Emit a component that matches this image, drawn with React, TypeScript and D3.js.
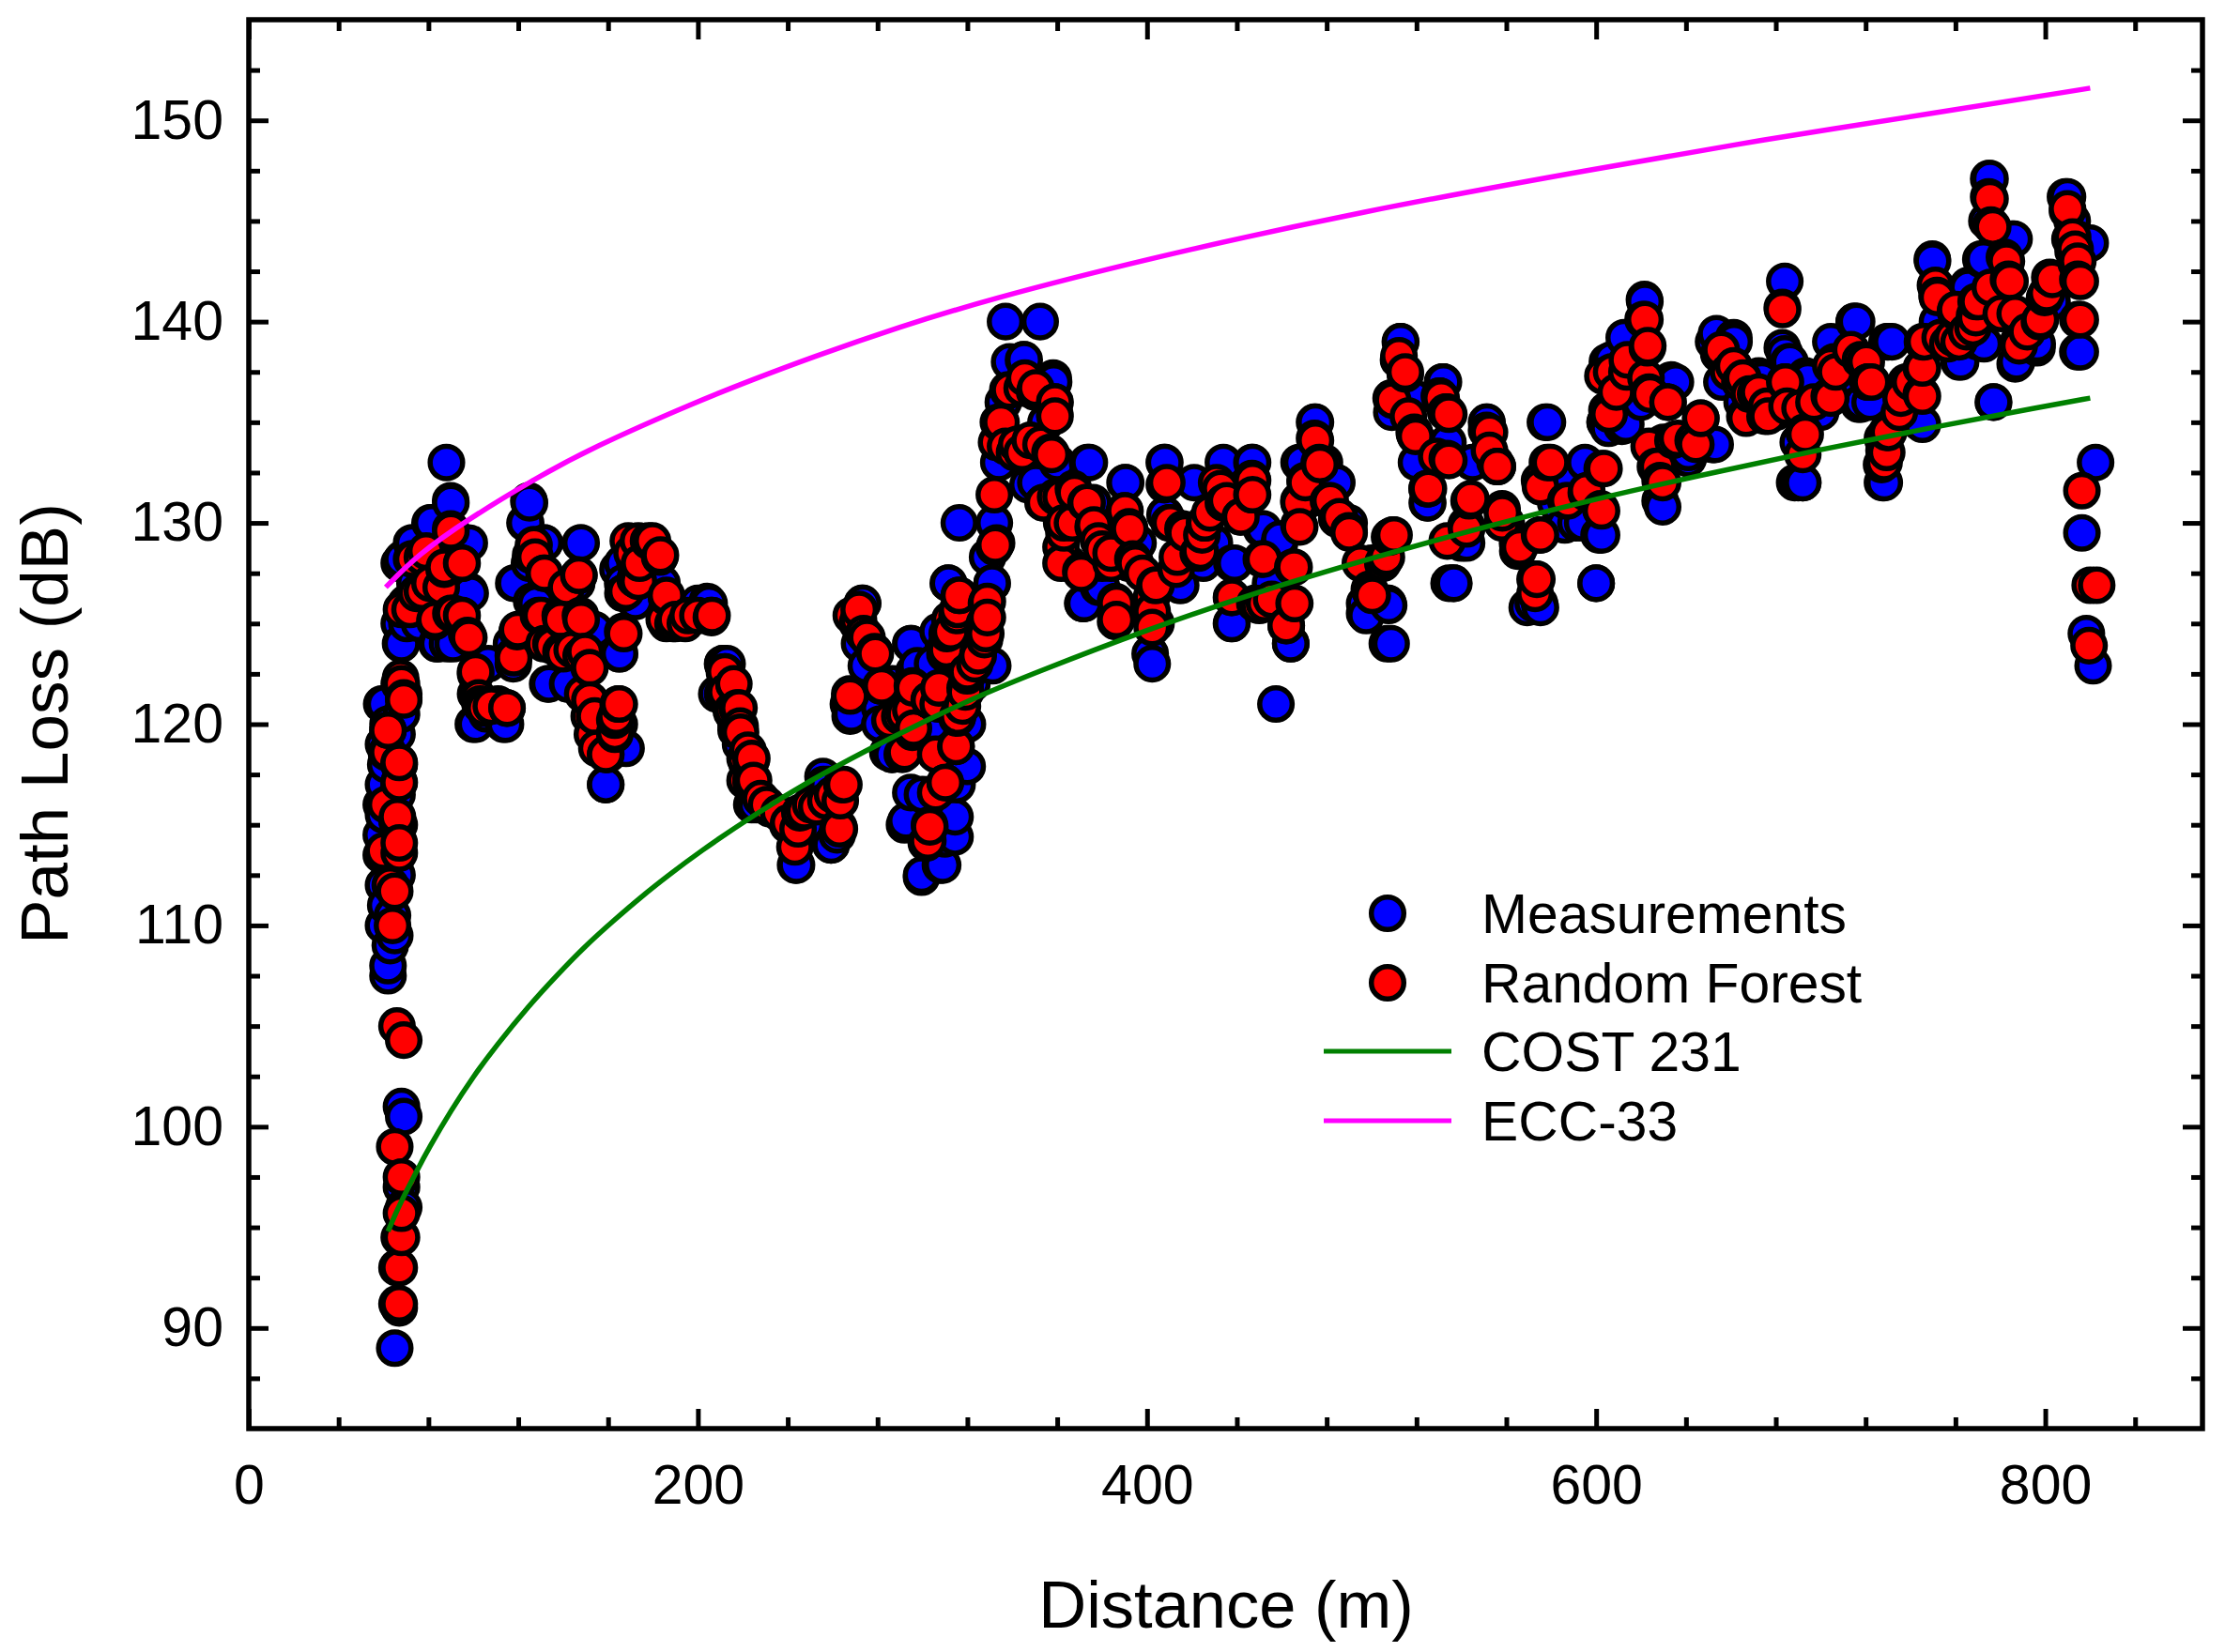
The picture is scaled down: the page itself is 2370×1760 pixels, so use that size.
import React, { useEffect, useRef } from "react";
import * as d3 from "d3";

type P = [number, number];

const measurementsSparse: P[] = [
[65,89],[67,91],[66,91.2],[66,93],[67,94.5],[69,96],[68,97],[68,101],[69,100.5],
[62,107.5],[62,108],[63,109],[65,109.5],[60,110],[61,111],[64,110.5],[60,112],[66,112.5],[59,113.5],[65,113],[59,114.5],[60,115.5],[67,115],[59,116],[60,117],[66,116.5],[61,118],[67,118],[60,119],[62,120],[60.5,121],[66,119.5],[68,120.5],[67,122],[69,121.5],
[68,124],[67,125],[67,128],[70,126],[72.5,129],[74,127],[76,125],[80.7,130],[78,128],[83.7,124],[85,125],[88,133],[90,131],[91,124],[92,127],[95,129],[98.6,126.5],[97,124.5],[100,120],[103,123],[101,121.5],[106,120.5],[113.5,120],[111,121],
[118,127],[117,124],[123,130],[125,131],[125,128],[131.5,129],[128,126],[133.7,122],[135,124],[142,122],[140,125],[148,129],[146,127],[150,124],[153,121],[155,119.5],[159,117],[160,118.5],[165,123.5],[164.4,127.7],[165,120],
[170,129],[172,128],[176,129],[180,128.5],[184,127],[186,125],[190,125],[195,125.4],[200,126],[205,126],[206,125.4],[211,123],[213,123],[211,121.5],[214,121],[217,120],[219,119],[222,118],[224,116],[226,116],
[232,115.8],[240,115],[243.5,113],[248,115],[253,116],[256,117],[258,117],[259.4,114],[262,114.5],[267.8,120.4],[267,121],[273.4,126],[272,124],[275,122.9],[281,120.8],[281,120],[284.6,118.6],[286.5,118.5],[286.5,122],[292,115],[294,119],[295,124],[297.7,122.9],[299.6,112.4],[300,116.5],[304,120],[307,124.6],[309,113],[310,116],[311.7,127],[314.5,114.4],[314.5,115.4],[315.4,117],[316.4,130],[318,118],[320,120],[322,122],[325,123],[329,128.3],[331,127],[331.3,122.9],[332,130],[333,129],[334,133],
[337,140],[338.8,138],[336,136],[340,134],[345.3,138.1],[347,131.9],[349,133],[352.4,140],[355,135],[358.4,137],[360,133],[362,130],[365,128],[371.5,126],[374.3,133],[376,131],[380,128],[386,125.5],[390.5,132],[392,128],[396,129],[402.3,123],[404,125],[407.9,133],[408,130.4],[415,126.9],[421,132],[425,128],[430,129],[434,133],[437.8,125],[437.8,128],[440,131],[447,133],[451.8,129.7],[455,127],[457.4,121],[459,129],[464,124],[467.7,133],[470,131],[475,135],[479,133],[484.5,132],[490,130],[497.6,125.4],[500,128],[507,124],[507.6,125.9],[507,126],
[509,135.5],[512.8,139],[515,136],[520,133],[525,131],[532,137],[536.6,127],[534,134],[540,129],[542.3,129],[545,133],[551.4,135],[555,133],[560,130],[565,129],[572,126],[575.2,125.8],[577.4,135],[577,132],[582,131],[586,132],[591,130],[595,133],[600,127],[602.4,129.4],[604,135],[605,138],[611.5,134.8],[615,138],[621.7,141],[620,136],[629.6,130.8],[630,134],[635.3,137],[641,133.2],[645,134],[652.3,133.9],[652.3,139],[656,137],[661.4,139],[665,136],[673.8,137.1],[680,135.5],[684,142],[684,138.4],[686.3,138],[692,132],[690,134],[694.3,137.1],[700,135.5],[706,138],[716,140],[712,137],[722,136],[728.3,132],[731.7,139],[738,137],[745.3,134.9],[749.8,143],[752,140],[762.3,138],[765.7,141.8],[770,139],[772.5,143.1],[775.4,147.1],[777,136],[774,145],[786.1,144.1],[787.2,138],[790,140],[796.3,138.7],[803,141],[809.9,146.2],[812,145],[815.6,138.5],[820,143.9],[816.3,129.5],[818.3,124.5],[821.3,122.9],[822.4,133],
];

const measurementsDense: P[] = [
[350.5,132],[358.2,137.2],[345,138.1],[373.5,133],[372,126],[378.4,126.8],[390.2,132],[401.4,123.5],[407.7,133],[414.6,126.9],[439,128],[437.6,125],[446.7,133],[450.9,129.7],[459.2,129.2],[464,124],[469,133],[474.6,135],[484.3,132],[496.9,125.5],[496.9,126],[507.3,126],[508.7,124],[513,139],[519,136.2],[524.8,131],[531.7,137],[534.5,127],
[531.6,137],[536.5,127],[551.2,135],[569.3,125.8],[574.8,126],[578.3,135],[586,129.9],[594,130],[600,127],[601.3,129.4],[605.5,134.7],[606.9,138.1],[612.5,139.2],[613.2,134.9],[621.5,141.1],[628.5,131.1],[634,137],[641,133.5],[653,133.9],[653.6,139.4],[661.3,139.2],[672.4,137.3],[682.9,138.7],[685.7,138],[692,132],[690,132],[693.3,137.3],[704.5,139],[715,140],[718.4,136],
[89.9,131.1],[124.7,131.1],[123.3,130],[81.5,130],[73.1,129],[131.7,129],[147.7,129],[98.2,129],[68.3,128.2],[98.2,126.6],[118.5,127],[126,126.1],[67.6,124],[84.3,124],[88.5,124],[70.4,125],[101,120],[114.3,120],[117.8,123],[106.6,123],[165.1,123.5],[172.1,126.1],[166.5,128],[166.5,127],[133.1,122],[142.2,122],[158.9,117],[59.2,121],[204.2,126.1],[211.1,123],[208.4,121.5],[154,124.7],[168,118.8],
[273.2,126],[268.3,120.5],[294.8,124],[311.5,127],[331,127],[329.6,123],[243.9,113],[259.2,114],[299.6,112.5],[308,113],[292.7,115.2],[312.2,115.4],[310.1,114.3],[314.3,117],[294.8,116.6],[286.4,118.5],[296.2,122.6],[304.5,123],[280.8,121],[255.7,117.4],[319.9,117.9],[371.4,126],[379.8,126.8],
[774.8,147.1],[809,146.2],[814.5,144.1],[785.3,144.1],[749.7,143.1],[814.5,138.5],[776.9,136],[786.6,137.9],[761.6,138],[714.9,140],[730.2,139],[744.1,135],[771.3,143.1],[765.7,141.7],[772.7,138.9],[796.4,138.9],[716.9,135.9],[729.5,139],[727.5,132],[688.4,132],[717.7,135.9],[651.5,133.9],[612.4,135],[604,135],[633.4,137.1],
];

const randomForestSparse: P[] = [
[67,91.2],[67,93],[68,94.5],[68,95.7],[68,97.5],[65,99],[69,104.3],[66,105],[64,110],[65,111.7],[67,113.6],[67,114.1],[66,115.2],[67,117.1],[67,118.1],[62,118.6],[62,119.7],[69,121.3],[68,122],[61,116],[60,113.7],[63,112],
[68,125.7],[72.5,128.2],[74.7,126.5],[79,128.6],[80.7,127],[83,125.2],[87,127.7],[90,129.6],[90,125.5],[95,128],[95,125.4],[98,124.3],[101,122.5],[103,121],[105,120.8],[108,120.9],[115,120.8],
[118,123.3],[119.5,124.6],[125.5,128.4],[127,128.9],[129,125.4],[131.5,127.5],[131.5,124],[135,123.9],[139,125.2],[139,123.6],[144,123.7],[147,127.4],[148,125.2],[148,123.4],[151.6,122.8],[148.7,121.5],[151.6,120.4],[153,119.5],[155,118.8],[159,118.5],[163,119.5],[163.6,120.4],[165,121],[167,124.5],
[166.6,126.5],[169,129.1],[172,127.2],[174,128],[178,129.1],[183,128.3],[186,126.3],[185,125.2],[190,125.2],[195.7,125.4],[200,125.4],[206,125.3],[212,122.6],[212,121.5],[215,120.6],[217,119.7],[218.3,120.8],[219,119.6],[221,118.3],[221,117.2],[224,118.3],[224.8,117.2],
[228,116.3],[236,115.6],[245.4,115.6],[257,116.2],[260,116.5],[263,114.8],[265,117],[267.8,121.4],[271.5,125.2],[275.3,124.3],[279,123.5],[281.8,121.9],[285.5,120.2],[291,118.5],[292,120.5],[295.8,121.8],[296,119.8],[302.4,114.2],[303.3,114.9],[303,121.2],[307,121],[310.2,117.1],[310.8,123.7],[310,123.5],[312.6,124.6],[314.9,118.9],[315.4,120.3],[315.4,125.4],[316.4,126.4],[319,121.8],[320,122.6],[324.8,123.4],[327.6,124.2],[327.6,125],[328.5,126],[332,128.8],[332,131.4],
[333,134],[335,135],[338.8,136.6],[337,133.8],[341,133.5],[344.4,136.7],[344.4,133.5],[350,136.5],[352.8,133.9],[353.7,131],[357.5,133.4],[359,136],[359,135.3],[359.3,131.3],[363,129.5],[366.8,130],[367.7,131.5],[370.5,127.6],[373.3,131],[376,129.8],[380,128.7],[384,128],[386.4,126],[386.4,125.2],[390,130.6],[392,129.8],[394.8,128],[398,127.5],[402.3,125.6],[402.3,124.8],[404,126.9],[408.8,132],[409.8,130],[413.5,128.3],[417,129.5],[422.8,128.5],[425.6,130],[428,130.5],[431,132],[434,131],[437.8,126.3],[441.5,130.3],[447,132.1],[447,131.4],[450,125.9],[451.8,128.2],[455.5,126.2],[462,124.9],[464.9,127.8],[465.8,126],[467.7,131],[468,129.8],[470.5,132],[475,134.1],[477,132.9],[480.8,131.1],[484.5,130.2],[490,129.5],[495,128],[499.4,126.6],[500.3,126.4],[505,128],[506,128.2],[508,129.3],[510,129.4],
[509.4,136.1],[512,138.1],[515,137.4],[519.6,134.3],[525.3,131.7],[531,136.2],[534.4,135.4],[534.4,133.1],[542.3,129.7],[543.4,131.1],[552.5,134.5],[556,132.8],[558.2,130.5],[566,128.8],[573.6,127.2],[575.2,129.4],[575.2,131.8],[579.7,133],[586.5,131.1],[595.6,131.5],[602.4,130.6],[603.5,132.7],[605.8,135.4],[613.7,137.5],[621.7,140.1],[622.8,138.7],[624,136.4],[627.4,132.8],[629.6,132],[632,136],[634.2,134.1],[644.4,133.9],[646.6,135.2],[654.6,138.4],[659,137.5],[668.2,136.4],[676,135.8],[683,140.6],[684,137],[690.8,135.7],[693.1,134.4],[704.5,136.2],[706.7,137.5],[713.5,138.6],[720.3,138],[722.6,137],[727.1,132.9],[729.4,133.5],[729.4,134.5],[735,135.5],[740,137],[745.3,136.3],[745.3,137.7],[745.3,139],[752,141.2],[756.6,138.9],[760,140.5],[765,139.5],[769.1,140.2],[770.2,141],[775.4,146.1],[776.6,144.7],[782.7,143],[784.3,142],[788.4,138.8],[792,139.5],[797.4,140],[799.7,141.2],[803.1,142.1],[809.9,145.5],[812.2,144.2],[813.3,143.6],[814.5,143],[815.6,142],[815.6,140.1],[816.3,131.6],[819.5,123.9],[820,126.9],[822.9,126.9],
];

const randomForestDense: P[] = [
[356.8,133.5],[358.9,135.4],[358.9,136],[350.5,136.7],[345.6,137.2],[338,136.6],[333.8,135],[342,133.9],[348,134.1],[372.8,131],[367.2,131.7],[361.7,131.3],[354,131],[376.3,129.9],[390.2,130.6],[392.3,129.7],[393.7,128.2],[386,126.1],[386,125.1],[370.7,127.5],[363,130],[361.7,128.8],[361.7,128],[378.4,129.1],[384,128.5],[400.7,125.5],[402,126.3],[403.5,126.9],[413,127.7],[423.7,128.6],[424.4,129.4],[425.8,130],[410.4,130],[407.7,131.9],[416,129.7],[432.8,131.7],[435.5,131.1],[441.8,130.3],[446.7,132.2],[446.7,131.4],[437.6,126.3],[450.9,128.2],[465.5,127.8],[465.5,126],[462,124.9],[452.3,126],[448,126],[467.6,129.9],[476.7,133],[474.6,134.2],[470.4,132.1],[467.6,131.1],[481.6,131.1],[485.7,130.3],[489.9,129.6],[509.4,129.4],[506.6,128.3],[499,126.7],[515,137.5],[512.2,138.3],[508.7,136.2],[516.4,135.3],[519.2,134.4],[524.8,131.7],[529,133.3],[533,135.5],[530.3,136.3],
[623,138.8],[620.9,140.1],[622.2,137.2],[623.6,136.5],[632,136],[604.8,135.6],[609,136.5],[606.9,137.5],[603,137.3],[613.9,138.1],[646.6,135.2],[643.2,134.1],[636.2,134.2],[628.5,132.1],[626.4,132.8],[623.6,133.8],[602.7,132.7],[602,130.7],[595.8,131.6],[587.4,131.1],[578.3,133],[574.8,132.1],[574.8,129.4],[572.8,127.2],[572.8,126.5],[565.1,128.6],[558.1,130.7],[558.1,130],[556,132.8],[552.5,133.6],[551.2,134.6],[544.2,131.2],[542.1,129.9],[533.7,129.1],[533.7,133.2],[524.7,131.7],[533.7,135.5],[530.2,136.3],[519,134.5],[703.8,136.3],[692.6,134.5],[692,133.4],[684.3,137],[685,135.8],[682.9,140.7],[675.2,135.3],[666.2,135.3],[664,137],[655.7,138.6],[661.3,137.8],[671,136.4],[697,136],[721.2,137],[717.7,138.1],[704.5,137.8],
[94.8,128],[89.9,129.7],[77.3,128.3],[87.1,127.8],[85.7,126.8],[73.1,128.2],[71.8,125.7],[77.3,126.6],[82.9,125.1],[94.8,125.4],[91.3,125.5],[97.5,124.4],[101,122.6],[102.4,121.3],[115,120.8],[103.8,120.9],[117.8,123.4],[119.8,124.7],[131.7,127.5],[127.5,128.3],[126.8,128.9],[147,127.4],[147.7,125.4],[130.3,125.4],[138.7,125.4],[141.5,126.8],[140,123.5],[134.5,124],[149.8,123.6],[151.9,122.8],[166.5,124.6],[164.5,121],[163,119.6],[163,120.2],[158.9,118.5],[154,120.4],[151.9,121.2],[183.3,128.4],[179.8,129.1],[173.5,127.1],[168,126.6],[170.7,128.5],[173.5,129.1],[186,126.4],[194.4,125],[206.3,125.4],[188.9,125],[211.8,122.6],[212.5,121.6],[215.3,120.7],[218.1,119.7],[222.3,118.7],[223.7,117.1],
[69,121.2],[67.6,122.3],[62,119.7],[61.3,118.6],[66.9,118],[66.9,117.1],[66.2,115.4],
[332.4,128.9],[328.9,126.1],[328.9,125.3],[328.2,124.5],[324.7,123.5],[323.3,123],[319.9,122.4],[319.2,121.6],[317.8,120.9],[315.7,120.4],[315,118.9],[305.9,118.5],[310.1,117.1],[305.9,116.6],[303.1,115],[301.7,114.1],[316.4,126.4],[315.7,125.7],[312.2,125.2],[310.1,123.8],[311,124.5],[307.3,121.8],[303.1,121.2],[295.5,121.9],[294.8,120.7],[289.9,120.4],[295.5,119.6],[292,118.6],[281.5,121.9],[267.6,121.5],[278.7,123.6],[273.8,124.5],[271,125],[268.3,125.4],[271.8,125.7],
[264.1,117],[262.7,114.9],[263.4,116.2],[250.2,116],[243.2,113.9],[244.6,114.8],[223.7,118.2],[223.7,117.3],[218.8,119.9],[217.4,120.8],[216,122],[230.6,116],[240.4,115.1],[247.4,115.7],[252.9,115.9],
[774.8,146.2],[775.8,144.8],[781.8,143.2],[783.6,142.1],[809.9,145.6],[811,144.1],[812.4,143.5],[813.8,142.9],[814.5,142.1],[814.5,140.1],[802,142.2],[800.6,141.4],[797.8,140.1],[788,139],[786.6,140.4],[769.2,141],[768.5,140.3],[767.8,139.7],[760.2,140.6],[758.8,139.2],[751.8,141.3],[751.1,141.8],[746.2,139],[744.8,136.4],[744.8,137.7],[735.8,136.2],[730.2,134.5],[721.1,137],[719.7,138],[775.5,141.7],[753.2,139.2],[761.6,139],[780.4,140.4],
[665.4,137.2],[672.4,136.5],[666.8,135.2],[676.6,135.3],[728.2,133.6],[727.5,134.2],[728.2,133],
];

const measurements: P[] = [...measurementsSparse, ...measurementsDense];
const randomForest: P[] = [...randomForestSparse, ...randomForestDense];

const cost231: P[] = [[62,94.8],[66,95.85],[70,96.75],[75,97.85],[80,98.9],[90,100.8],[100,102.5],[110,104],[125,106.05],[137,107.5],[150,109],[162,110.2],[175,111.45],[187,112.5],[200,113.6],[225,115.5],[250,117.2],[275,118.7],[300,120.1],[325,121.4],[350,122.55],[400,124.7],[450,126.6],[500,128.25],[550,129.8],[600,131.2],[650,132.45],[700,133.65],[750,134.75],[800,135.8],[820,136.2]];
const ecc33: P[] = [[61,126.8],[75,128.4],[98,130.2],[126,132.1],[152,133.7],[200,136.05],[224,137.1],[250,138.2],[290,139.75],[328,141.05],[397,143.05],[496,145.5],[600,147.6],[672,149],[750,150.35],[820,151.6]];

const xMajor = [0, 200, 400, 600, 800];
const xMinor = [40, 80, 120, 160, 240, 280, 320, 360, 440, 480, 520, 560, 640, 680, 720, 760, 840];
const yMajor = [90, 100, 110, 120, 130, 140, 150];
const yMinor = [87.5, 92.5, 95, 97.5, 102.5, 105, 107.5, 112.5, 115, 117.5, 122.5, 125, 127.5, 132.5, 135, 137.5, 142.5, 145, 147.5, 152.5];
const legendNames = ["Measurements", "Random Forest", "COST 231", "ECC-33"];
const colors = { blue: "#0000ff", red: "#ff0000", green: "#008000", magenta: "#ff00ff" };

const W = 2370, H = 1760;
const FONT = "'Liberation Sans', Arial, sans-serif";

export default function App() {
  const ref = useRef<SVGSVGElement | null>(null);
  useEffect(() => {
    const svg = d3.select(ref.current as SVGSVGElement);
    svg.selectAll("*").remove();
    const L = 265, R = 2346, T = 21, B = 1522;
    const x = d3.scaleLinear().domain([0, 870]).range([L, R]);
    const y = d3.scaleLinear().domain([85, 155]).range([B, T]);

    const line = d3.line<P>().x(d => x(d[0])).y(d => y(d[1])).curve(d3.curveBasis);
    const dots = (data: P[], fill: string) => {
      svg.append("g").selectAll("circle")
        .data([...data].sort((a, b) => a[0] - b[0]))
        .join("circle")
        .attr("cx", d => x(d[0])).attr("cy", d => y(d[1]))
        .attr("r", 17.3).attr("fill", fill).attr("stroke", "#000").attr("stroke-width", 5.5);
    };
    dots(measurements, colors.blue);
    dots(randomForest, colors.red);
    svg.append("path").attr("d", line(cost231)).attr("fill", "none").attr("stroke", colors.green).attr("stroke-width", 5.5);
    svg.append("path").attr("d", line(ecc33)).attr("fill", "none").attr("stroke", colors.magenta).attr("stroke-width", 5.5);

    const styleAxis = (g: any) => {
      g.select(".domain").remove();
      g.selectAll("line").attr("stroke", "#000").attr("stroke-width", 5);
      g.selectAll("text").attr("font-family", FONT).attr("font-size", 59).attr("fill", "#000");
    };
    const put = (axis: any, tx: number, ty: number) => svg.append("g").attr("transform", `translate(${tx},${ty})`).call(axis).call(styleAxis);
    const major = 21, minor = 12;
    put(d3.axisBottom(x).tickValues(xMajor).tickSize(-major).tickPadding(38).tickFormat(d3.format("d") as any), 0, B);
    put(d3.axisBottom(x).tickValues(xMinor).tickSize(-minor).tickFormat(() => ""), 0, B);
    put(d3.axisLeft(y).tickValues(yMajor).tickSize(-major).tickPadding(27).tickFormat(d3.format("d") as any), L, 0);
    put(d3.axisLeft(y).tickValues(yMinor).tickSize(-minor).tickFormat(() => ""), L, 0);
    put(d3.axisTop(x).tickValues(xMajor).tickSize(-major).tickFormat(() => ""), 0, T);
    put(d3.axisTop(x).tickValues(xMinor).tickSize(-minor).tickFormat(() => ""), 0, T);
    put(d3.axisRight(y).tickValues(yMajor).tickSize(-major).tickFormat(() => ""), R, 0);
    put(d3.axisRight(y).tickValues(yMinor).tickSize(-minor).tickFormat(() => ""), R, 0);

    svg.append("rect").attr("x", L).attr("y", T).attr("width", R - L).attr("height", B - T)
      .attr("fill", "none").attr("stroke", "#000").attr("stroke-width", 5.5);

    svg.append("text").text("Distance (m)").attr("x", 1306).attr("y", 1734).attr("text-anchor", "middle")
      .attr("font-family", FONT).attr("font-size", 70.5).attr("fill", "#000");
    svg.append("text").text("Path Loss (dB)").attr("transform", "translate(72,771) rotate(-90)").attr("text-anchor", "middle")
      .attr("font-family", FONT).attr("font-size", 71).attr("fill", "#000");

    const legY = [973, 1047, 1120, 1194];
    legendNames.forEach((name, i) => {
      svg.append("text").text(name).attr("x", 1578).attr("y", legY[i] + 21)
        .attr("font-family", FONT).attr("font-size", 58.8).attr("fill", "#000");
      if (i < 2) {
        svg.append("circle").attr("cx", 1478).attr("cy", legY[i]).attr("r", 17.3)
          .attr("fill", i === 0 ? colors.blue : colors.red).attr("stroke", "#000").attr("stroke-width", 5.5);
      } else {
        svg.append("line").attr("x1", 1410).attr("x2", 1546).attr("y1", legY[i]).attr("y2", legY[i])
          .attr("stroke", i === 2 ? colors.green : colors.magenta).attr("stroke-width", 5);
      }
    });
  }, []);
  return <svg ref={ref} width={W} height={H} style={{ position: "absolute", left: 0, top: 0, background: "#fff" }} />;
}
